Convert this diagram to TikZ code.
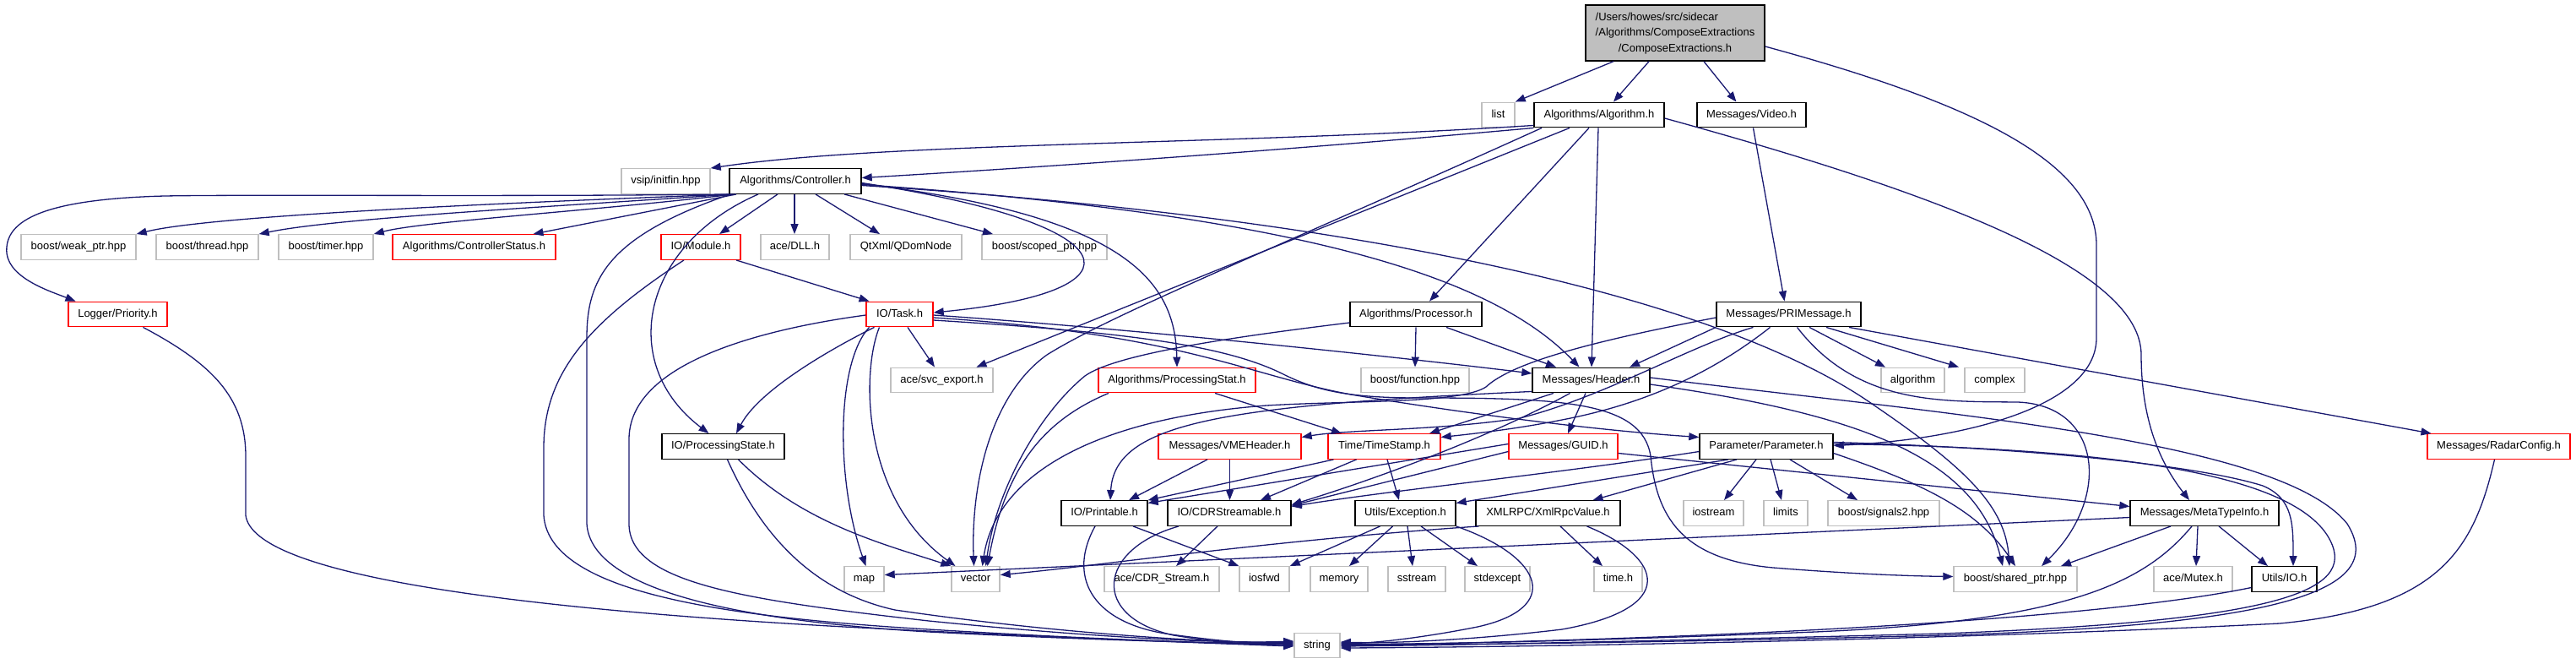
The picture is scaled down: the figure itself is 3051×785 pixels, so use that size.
\documentclass[tikz,border=0pt]{standalone}
\usepackage{fontspec}
\setmainfont{Liberation Sans}
\usetikzlibrary{arrows.meta}
\definecolor{edgec}{HTML}{191970}
\definecolor{gborder}{HTML}{BFBFBF}
\definecolor{rootgray}{HTML}{BFBFBF}
\begin{document}
\begin{tikzpicture}[x=1pt,y=-1pt,font={\fontsize{13}{15.6}\selectfont},
  nd/.style={draw, line width=1.4pt, minimum height=29.5pt, inner sep=0pt, text height=9.6pt, text depth=2.8pt, fill=white},
  gn/.style={nd, draw=gborder},
  bn/.style={nd, draw=black},
  rn/.style={nd, draw=red},
  edg/.style={draw=edgec, line width=1.3pt, -{Triangle[length=12pt,width=9pt]}}]
\useasboundingbox (0,0) rectangle (3051,785);
% nodes
\node[draw=black, line width=1.4pt, fill=rootgray, minimum width=212pt, minimum height=66pt, inner sep=0pt] (root) at (1984,39)
  {\fontsize{13}{18.5}\selectfont\begin{tabular}{@{}l@{}}/Users/howes/src/sidecar\\/Algorithms/ComposeExtractions\\\multicolumn{1}{@{}c@{}}{/ComposeExtractions.h}\end{tabular}};
\node[gn,minimum width=39pt] (list) at (1774.5,136) {list};
\node[bn,minimum width=154pt] (alg) at (1894,136) {Algorithms/Algorithm.h};
\node[bn,minimum width=129pt] (video) at (2074.5,136) {Messages/Video.h};
\node[gn,minimum width=105pt] (vsip) at (788.5,214.5) {vsip/initfin.hpp};
\node[bn,minimum width=156pt] (ctrl) at (942,214.5) {Algorithms/Controller.h};
\node[gn,minimum width=136pt] (weak) at (93,292.5) {boost/weak\_ptr.hpp};
\node[gn,minimum width=121pt] (thread) at (245.5,292.5) {boost/thread.hpp};
\node[gn,minimum width=112pt] (timer) at (386,292.5) {boost/timer.hpp};
\node[rn,minimum width=193pt] (cstat) at (561.5,292.5) {Algorithms/ControllerStatus.h};
\node[rn,minimum width=94pt] (module) at (830,292.5) {IO/Module.h};
\node[gn,minimum width=81pt] (dll) at (941.5,292.5) {ace/DLL.h};
\node[gn,minimum width=132pt] (qdom) at (1073,292.5) {QtXml/QDomNode};
\node[gn,minimum width=148pt] (scoped) at (1237,292.5) {boost/scoped\_ptr.hpp};
\node[rn,minimum width=117pt] (logger) at (139.5,372) {Logger/Priority.h};
\node[rn,minimum width=79pt] (task) at (1065.5,372) {IO/Task.h};
\node[bn,minimum width=156pt] (proc) at (1677,372) {Algorithms/Processor.h};
\node[bn,minimum width=171pt] (pri) at (2118.5,372) {Messages/PRIMessage.h};
\node[gn,minimum width=121pt] (svc) at (1115.5,450) {ace/svc\_export.h};
\node[rn,minimum width=186pt] (pstat) at (1394,450) {Algorithms/ProcessingStat.h};
\node[gn,minimum width=128pt] (func) at (1676,450) {boost/function.hpp};
\node[bn,minimum width=139pt] (header) at (1884.5,450) {Messages/Header.h};
\node[gn,minimum width=75pt] (algo) at (2265.5,450) {algorithm};
\node[gn,minimum width=71pt] (complex) at (2362.5,450) {complex};
\node[bn,minimum width=145pt] (pstate) at (856.5,528.5) {IO/ProcessingState.h};
\node[rn,minimum width=169pt] (vme) at (1456.5,528.5) {Messages/VMEHeader.h};
\node[rn,minimum width=133pt] (ts) at (1639.5,528.5) {Time/TimeStamp.h};
\node[rn,minimum width=129pt] (guid) at (1851.5,528.5) {Messages/GUID.h};
\node[bn,minimum width=158pt] (param) at (2092,528.5) {Parameter/Parameter.h};
\node[rn,minimum width=169pt] (radar) at (2959.5,528.5) {Messages/RadarConfig.h};
\node[bn,minimum width=102pt] (print) at (1308,607.5) {IO/Printable.h};
\node[bn,minimum width=146pt] (cdr) at (1456,607.5) {IO/CDRStreamable.h};
\node[bn,minimum width=119pt] (exc) at (1664.5,607.5) {Utils/Exception.h};
\node[bn,minimum width=171pt] (xml) at (1833.5,607.5) {XMLRPC/XmlRpcValue.h};
\node[gn,minimum width=71pt] (iostream) at (2029.5,607.5) {iostream};
\node[gn,minimum width=52pt] (limits) at (2115,607.5) {limits};
\node[gn,minimum width=132pt] (sig) at (2231,607.5) {boost/signals2.hpp};
\node[bn,minimum width=176pt] (meta) at (2611,607.5) {Messages/MetaTypeInfo.h};
\node[gn,minimum width=47pt] (map) at (1023.5,685.5) {map};
\node[gn,minimum width=57pt] (vector) at (1155.5,685.5) {vector};
\node[gn,minimum width=136pt] (cdrs) at (1376,685.5) {ace/CDR\_Stream.h};
\node[gn,minimum width=59pt] (iosfwd) at (1497.5,685.5) {iosfwd};
\node[gn,minimum width=68pt] (memory) at (1586,685.5) {memory};
\node[gn,minimum width=68pt] (sstream) at (1678,685.5) {sstream};
\node[gn,minimum width=77pt] (stdexc) at (1773.5,685.5) {stdexcept};
\node[gn,minimum width=57pt] (timeh) at (1916.5,685.5) {time.h};
\node[gn,minimum width=146pt] (shared) at (2387,685.5) {boost/shared\_ptr.hpp};
\node[gn,minimum width=93pt] (mutex) at (2597.5,685.5) {ace/Mutex.h};
\node[bn,minimum width=77pt] (uio) at (2705.5,685.5) {Utils/IO.h};
\node[gn,minimum width=54pt] (string) at (1560,764) {string};
% root
\draw[edg] ([xshift=-73pt]root.south) -- (list.north east);
\draw[edg] ([xshift=-31pt]root.south) -- ([xshift=17pt]alg.north);
\draw[edg] ([xshift=34pt]root.south) -- ([xshift=-18pt]video.north);
\draw[edg] ([yshift=-16pt]root.east) .. controls (2330,120) and (2483,190) .. (2483,290) -- (2483,400) .. controls (2483,480) and (2330,520) .. ([yshift=1pt]param.east);
% video
\draw[edg] ([xshift=2pt]video.south) -- ([xshift=-5pt]pri.north);
% algorithm
\draw[edg] ([yshift=3pt]alg.south west) .. controls (1450,172) and (1050,168) .. (vsip.north east);
\draw[edg] (alg.south west) .. controls (1500,180) and (1200,200) .. ([yshift=4pt]ctrl.east);
\draw[edg] ([xshift=-68pt]alg.south) .. controls (1520,290) and (1320,370) .. (1240,420) .. controls (1170,470) and (1150,580) .. ([xshift=-2pt]vector.north);
\draw[edg] ([xshift=-35pt]alg.south) -- ([xshift=41pt]svc.north);
\draw[edg] ([xshift=-12pt]alg.south) -- ([xshift=16pt]proc.north);
\draw[edg] ([xshift=-1pt]alg.south) -- ([xshift=0.5pt]header.north);
\draw[edg] ([yshift=-4pt]alg.east) .. controls (2300,230) and (2536,320) .. (2536,420) .. controls (2536,500) and (2560,550) .. ([xshift=-18pt]meta.north);
% controller
\draw[edg] (ctrl.south west) .. controls (600,233) and (300,230) .. (195,232) .. controls (40,236) and (5,265) .. (8,300) .. controls (12,330) and (60,345) .. ([xshift=-50pt]logger.north);
\draw[edg] ([xshift=2pt]ctrl.south west) .. controls (600,240) and (250,255) .. (weak.north east);
\draw[edg] ([xshift=4pt]ctrl.south west) .. controls (650,245) and (400,258) .. (thread.north east);
\draw[edg] ([xshift=6pt]ctrl.south west) .. controls (700,250) and (500,262) .. (timer.north east);
\draw[edg] ([xshift=-70pt]ctrl.south) -- ([xshift=70pt]cstat.north);
\draw[edg] ([xshift=-21pt]ctrl.south) -- ([xshift=22pt]module.north);
\draw[edg] ([xshift=-1pt]ctrl.south) -- ([xshift=-0.5pt]dll.north);
\draw[edg] ([xshift=24pt]ctrl.south) -- ([xshift=-31pt]qdom.north);
\draw[edg] ([xshift=58pt]ctrl.south) -- ([xshift=-61pt]scoped.north);
\draw[edg] ([yshift=-2pt]ctrl.east) .. controls (1340,265) and (1365,345) .. ([yshift=2pt]task.east);
\draw[edg] ([xshift=-44pt]ctrl.south) .. controls (760,290) and (730,430) .. ([xshift=-17pt]pstate.north);
\draw[edg] ([xshift=-77pt]ctrl.south) .. controls (720,280) and (695,330) .. (695,400) -- (695,620) .. controls (700,700) and (880,735) .. (1100,748) .. controls (1300,758) and (1450,762) .. ([yshift=3pt]string.west);
\draw[edg] ([yshift=-3pt]ctrl.east) .. controls (1330,255) and (1392,330) .. (pstat.north);
\draw[edg] ([yshift=-4pt]ctrl.east) .. controls (1550,255) and (1770,330) .. ([xshift=-14pt]header.north);
\draw[edg] ([yshift=-5pt]ctrl.east) .. controls (1650,260) and (2050,360) .. (2220,480) .. controls (2330,555) and (2375,600) .. ([xshift=-7pt]shared.north);
% module
\draw[edg] ([xshift=42pt]module.south) -- ([xshift=-36pt]task.north);
\draw[edg] ([xshift=-20pt]module.south) .. controls (700,380) and (644,440) .. (644,530) -- (644,610) .. controls (650,700) and (850,730) .. (1100,745) .. controls (1300,757) and (1450,762) .. ([yshift=1pt]string.west);
% logger
\draw[edg] ([xshift=30pt]logger.south) .. controls (250,430) and (291,470) .. (291,540) -- (291,610) .. controls (300,680) and (600,720) .. (1000,742) .. controls (1250,755) and (1450,762) .. ([yshift=-1pt]string.west);
% task
\draw[edg] ([xshift=9.5pt]task.south) -- ([xshift=-8.5pt]svc.north);
\draw[edg] ([xshift=-30pt]task.south) .. controls (990,410) and (900,460) .. ([xshift=15.5pt]pstate.north);
\draw[edg] ([yshift=-1pt]task.west) .. controls (900,390) and (745,430) .. (745,520) -- (745,620) .. controls (745,690) and (880,710) .. (1100,735) .. controls (1300,755) and (1450,762) .. ([yshift=5pt]string.west);
\draw[edg] ([xshift=-36pt]task.south) .. controls (990,430) and (990,570) .. ([xshift=2pt]map.north);
\draw[edg] ([xshift=-24pt]task.south) .. controls (1020,440) and (1020,590) .. ([xshift=-24pt]vector.north);
\draw[edg] ([yshift=-1pt]task.east) .. controls (1350,390) and (1650,422) .. ([yshift=8pt]header.west);
\draw[edg] ([yshift=-4pt]task.east) .. controls (1400,395) and (1480,445) .. (1600,467) .. controls (1750,492) and (1900,510) .. ([yshift=11pt]param.west);
\draw[edg] ([yshift=-7pt]task.east) .. controls (1330,393) and (1450,408) .. (1520,443) .. controls (1560,463) and (1600,471) .. (1680,471) .. controls (1850,471) and (1945,475) .. (1955,540) .. controls (1962,610) and (1990,662) .. (2100,672) .. controls (2200,680) and (2270,682) .. ([yshift=3pt]shared.west);
% processor
\draw[edg] ([yshift=-10pt]proc.west) .. controls (1450,400) and (1320,420) .. (1285,445) .. controls (1230,490) and (1180,580) .. ([xshift=12pt]vector.north);
\draw[edg] (proc.south) -- (func.north);
\draw[edg] ([xshift=36pt]proc.south) -- ([xshift=-41.5pt]header.north);
% PRIMessage
\draw[edg] (pri.south west) -- ([xshift=45.5pt]header.north);
\draw[edg] ([xshift=-42pt]pri.south) .. controls (2000,410) and (1900,470) .. (1800,495) .. controls (1700,510) and (1600,508) .. ([yshift=11pt]vme.east);
\draw[edg] ([xshift=-22pt]pri.south) .. controls (2030,440) and (1950,478) .. (1850,497) .. controls (1800,507) and (1750,513) .. ([yshift=11pt]ts.east);
\draw[edg] ([yshift=-4pt]pri.west) .. controls (1880,405) and (1790,430) .. (1760,458) .. controls (1730,478) and (1600,474) .. (1500,480) .. controls (1300,495) and (1180,560) .. ([xshift=8pt]vector.north);
\draw[edg] ([xshift=24.5pt]pri.south) -- ([xshift=-32.5pt]algo.north);
\draw[edg] ([xshift=44.5pt]pri.south) -- ([xshift=-42.5pt]complex.north);
\draw[edg] ([xshift=71.5pt]pri.south) -- ([xshift=-80pt]radar.north);
\draw[edg] ([xshift=10pt]pri.south) .. controls (2200,480) and (2300,475) .. (2390,476) .. controls (2490,480) and (2500,590) .. ([xshift=31pt]shared.north);
% ProcessingStat
\draw[edg] ([xshift=45pt]pstat.south) -- ([xshift=-50.5pt]ts.north);
\draw[edg] ([xshift=-81pt]pstat.south) .. controls (1230,500) and (1190,560) .. ([xshift=14pt]vector.north);
% Header
\draw[edg] ([xshift=-6.5pt]header.south) -- ([xshift=5.5pt]guid.north);
\draw[edg] ([xshift=-44.5pt]header.south) -- ([xshift=53.5pt]ts.north);
\draw[edg] ([yshift=2pt]header.south west) .. controls (1450,480) and (1320,500) .. ([xshift=7pt]print.north);
\draw[edg] ([xshift=-25pt]header.south) .. controls (1760,520) and (1620,570) .. ([yshift=10pt]cdr.east);
\draw[edg] ([yshift=3pt]header.east) .. controls (2300,490) and (2700,520) .. (2780,620) .. controls (2830,700) and (2700,740) .. (2300,752) .. controls (2000,760) and (1700,764) .. ([yshift=1pt]string.east);
\draw[edg] ([yshift=-5pt]header.east) .. controls (2200,490) and (2340,540) .. ([xshift=-15pt]shared.north);
% GUID
\draw[edg] ([yshift=3pt]guid.west) -- ([yshift=12pt]print.east);
\draw[edg] ([yshift=-6pt]guid.west) -- ([yshift=9pt]cdr.east);
\draw[edg] ([yshift=-8pt]guid.east) -- ([yshift=8pt]meta.west);
% VMEHeader
\draw[edg] ([xshift=-26.5pt]vme.south) -- ([xshift=29pt]print.north);
\draw[edg] (vme.south) -- ([xshift=0.5pt]cdr.north);
% TimeStamp
\draw[edg] ([xshift=-60pt]ts.south) -- (print.north east);
\draw[edg] ([xshift=-33pt]ts.south) -- ([xshift=37pt]cdr.north);
\draw[edg] ([xshift=3.5pt]ts.south) -- ([xshift=-7.5pt]exc.north);
% Parameter
\draw[edg] ([yshift=-6pt]param.west) .. controls (1850,560) and (1650,580) .. ([yshift=8pt]cdr.east);
\draw[edg] ([xshift=-45pt]param.south) -- ([yshift=12pt]exc.east);
\draw[edg] ([xshift=-35pt]param.south) -- ([xshift=53pt]xml.north);
\draw[edg] ([xshift=-12pt]param.south) -- ([xshift=12.5pt]iostream.north);
\draw[edg] ([xshift=5pt]param.south) -- ([xshift=-5pt]limits.north);
\draw[edg] ([xshift=28pt]param.south) -- ([xshift=-31pt]sig.north);
\draw[edg] ([yshift=-8pt]param.east) .. controls (2270,570) and (2340,600) .. (shared.north);
\draw[edg] ([yshift=5pt]param.east) .. controls (2400,530) and (2600,550) .. (2680,575) .. controls (2716,590) and (2716,620) .. ([xshift=10.5pt]uio.north);
\draw[edg] ([yshift=3pt]param.east) .. controls (2500,530) and (2720,560) .. (2760,640) .. controls (2790,700) and (2700,735) .. (2300,750) .. controls (2000,758) and (1700,764) .. ([yshift=-1pt]string.east);
% RadarConfig
\draw[edg] ([xshift=-5pt]radar.south) .. controls (2930,650) and (2890,720) .. (2700,738) .. controls (2300,758) and (1800,766) .. ([yshift=-3pt]string.east);
% Printable
\draw[edg] ([xshift=34pt]print.south) -- (iosfwd.north west);
\draw[edg] ([xshift=-11pt]print.south) .. controls (1265,680) and (1290,735) .. (1380,750) .. controls (1450,760) and (1500,763) .. ([yshift=2pt]string.west);
% CDR
\draw[edg] ([xshift=-14pt]cdr.south) -- ([xshift=17pt]cdrs.north);
\draw[edg] ([xshift=-60pt]cdr.south) .. controls (1300,650) and (1290,730) .. (1390,752) .. controls (1450,762) and (1500,764) .. (string.west);
% Exception
\draw[edg] ([xshift=-30pt]exc.south) -- (iosfwd.north east);
\draw[edg] ([xshift=-15pt]exc.south) -- ([xshift=12pt]memory.north);
\draw[edg] ([xshift=2.5pt]exc.south) -- ([xshift=-5pt]sstream.north);
\draw[edg] ([xshift=18.5pt]exc.south) -- ([xshift=-23.5pt]stdexc.north);
\draw[edg] (exc.south east) .. controls (1830,660) and (1850,720) .. (1750,742) .. controls (1680,756) and (1620,762) .. ([yshift=3pt]string.east);
% XmlRpc
\draw[edg] ([xshift=-82pt]xml.south) .. controls (1500,640) and (1300,670) .. ([yshift=5pt]vector.east);
\draw[edg] ([xshift=14.5pt]xml.south) -- ([xshift=-18.5pt]timeh.north);
\draw[edg] ([xshift=46pt]xml.south) .. controls (1970,660) and (1990,720) .. (1850,745) .. controls (1750,757) and (1650,762) .. ([yshift=4pt]string.east);
% ProcessingState
\draw[edg] ([xshift=18pt]pstate.south) .. controls (950,620) and (1050,645) .. (vector.north west);
\draw[edg] ([xshift=5pt]pstate.south) .. controls (900,630) and (960,700) .. (1060,722) .. controls (1250,750) and (1450,762) .. ([yshift=4pt]string.west);
% MetaTypeInfo
\draw[edg] ([yshift=-5pt]meta.west) -- ([yshift=5pt]map.east);
\draw[edg] ([xshift=-40pt]meta.south) -- ([xshift=54pt]shared.north);
\draw[edg] ([xshift=-8pt]meta.south) -- ([xshift=3.5pt]mutex.north);
\draw[edg] ([xshift=17pt]meta.south) -- ([xshift=-19.5pt]uio.north);
\draw[edg] ([xshift=-15pt]meta.south) .. controls (2540,690) and (2450,735) .. (2150,748) .. controls (1900,758) and (1700,763) .. ([yshift=2pt]string.east);
% Utils/IO
\draw[edg] ([yshift=-10pt]uio.west) .. controls (2500,730) and (2100,755) .. (string.east);
\end{tikzpicture}
\end{document}
